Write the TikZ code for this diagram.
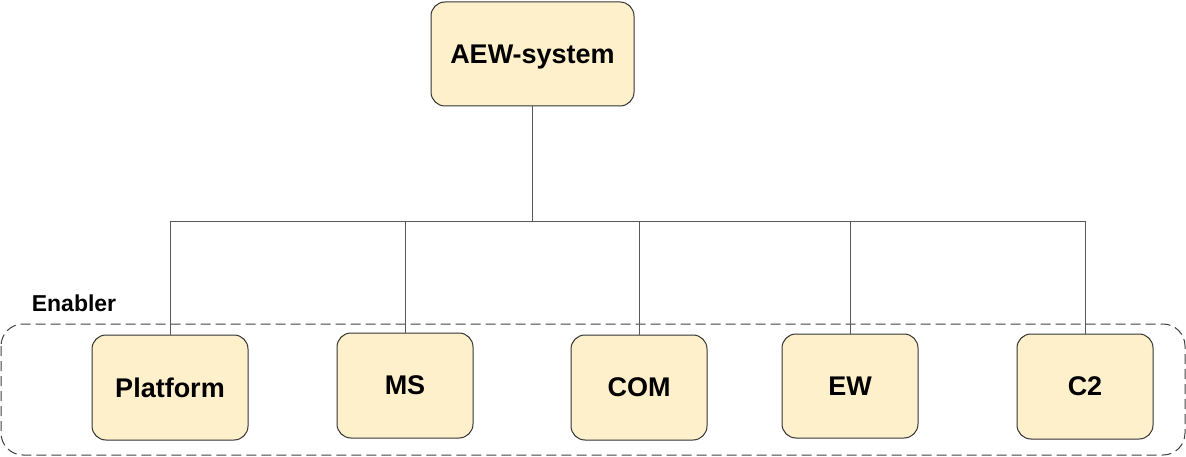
\documentclass[tikz,border=0pt]{standalone}
\usepackage{fontspec}
\setmainfont{Liberation Sans}
\begin{document}
\begin{tikzpicture}[x=1pt,y=-1pt,
  box/.style={draw=black!80, line width=1pt, fill=boxfill, rounded corners=14pt, inner sep=0pt, text depth=0pt, font=\bfseries\fontsize{27}{32}\selectfont},
  conn/.style={draw=black!65, line width=0.8pt},
  grp/.style={draw=black!75, line width=1pt, dash pattern=on 10pt off 5pt, rounded corners=22pt}
]
\definecolor{boxfill}{HTML}{FFF0CC}
\useasboundingbox (0,0) rectangle (1186,457);
\draw[grp] (1,324) rectangle (1185,455);
\node[anchor=center, font=\bfseries\fontsize{23}{28}\selectfont] (en) at (74,303) {Enabler};
\node[box, minimum width=203pt, minimum height=104pt] (aew) at (532.5,54) {AEW-system};
\node[box, minimum width=156pt, minimum height=105pt] (pf) at (170,387.5) {Platform};
\node[box, minimum width=136pt, minimum height=105pt] (ms) at (405,385.5) {MS};
\node[box, minimum width=136pt, minimum height=105pt] (com) at (639,387.5) {COM};
\node[box, minimum width=136pt, minimum height=104pt] (ew) at (850,386) {EW};
\node[box, minimum width=136pt, minimum height=105pt] (c2) at (1085,386.5) {C2};
\coordinate (bus) at (0,221);
\draw[conn] (aew.south) -- (aew.south |- bus);
\draw[conn] (pf.north |- bus) -- (c2.north |- bus);
\foreach \n in {pf,ms,com,ew,c2} {\draw[conn] (\n.north |- bus) -- (\n.north);}
\end{tikzpicture}
\end{document}
